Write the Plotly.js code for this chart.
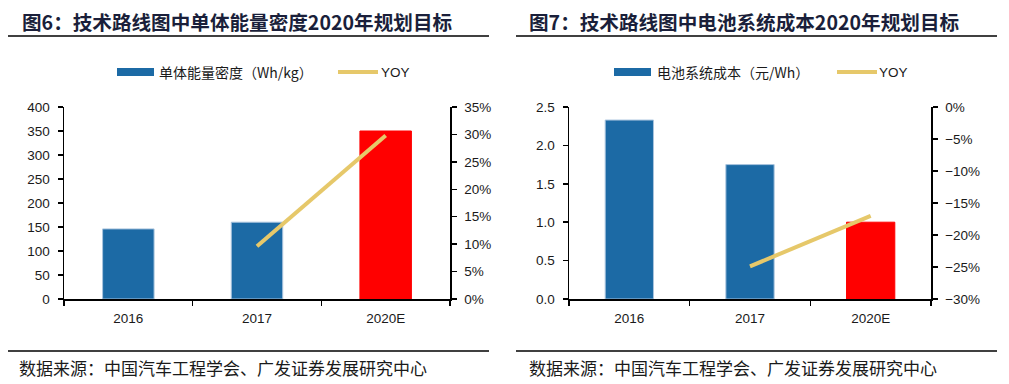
<!DOCTYPE html>
<html>
<head>
<meta charset="utf-8">
<script src="https://cdn.plot.ly/plotly-3.0.1.min.js"></script>
<style>html,body{margin:0;padding:0;background:#fff;}#chart{width:1009px;height:384px;}</style>
</head>
<body>
<div id="chart"></div>
<script>
// ---- data ----
const categories = ['2016', '2017', '2020E'];
const energyDensity = [146, 160, 350];          // Wh/kg
const energyYoY = [null, 0.096, 0.298];         // YOY
const systemCost = [2.33, 1.75, 1.0];           // 元/Wh
const costYoY = [null, -0.249, -0.170];         // YOY
const title1 = '图6：技术路线图中单体能量密度2020年规划目标';
const title2 = '图7：技术路线图中电池系统成本2020年规划目标';
const legendBar1 = '单体能量密度（Wh/kg）';
const legendBar2 = '电池系统成本（元/Wh）';
const legendLine = 'YOY';
const sourceText = '数据来源：中国汽车工程学会、广发证券发展研究中心';

// ---- styles ----
const BLUE = '#1c6aa5', RED = '#ff0000', GOLD = '#e6c86a';
const W = 1009, H = 384;
const px = v => v / W, py = v => (H - v) / H;
const barColors = [BLUE, BLUE, RED];
const barEdge = ['#a9c4de', '#a9c4de', RED];
const tickFont = {family: 'Liberation Sans, Arial, sans-serif', size: 13.5, color: '#1a1a1a'};
const cjk = 'Noto Sans CJK SC, sans-serif';

const traces = [
  {type: 'bar', x: categories, y: energyDensity, xaxis: 'x', yaxis: 'y', width: 0.4,
   marker: {color: barColors, line: {color: barEdge, width: 1}}, name: legendBar1, showlegend: false},
  {type: 'scatter', mode: 'lines', x: categories, y: energyYoY, xaxis: 'x', yaxis: 'y2',
   line: {color: GOLD, width: 4}, name: legendLine, showlegend: false},
  {type: 'bar', x: categories, y: systemCost, xaxis: 'x2', yaxis: 'y3', width: 0.4,
   marker: {color: barColors, line: {color: barEdge, width: 1}}, name: legendBar2, showlegend: false},
  {type: 'scatter', mode: 'lines', x: categories, y: costYoY, xaxis: 'x2', yaxis: 'y4',
   line: {color: GOLD, width: 4}, name: legendLine, showlegend: false}
];

const axCommon = {showgrid: false, zeroline: false, showline: true, linecolor: '#000', linewidth: 1.5,
  ticks: 'outside', ticklen: 5, tickwidth: 1.5, tickcolor: '#000', tickfont: tickFont, fixedrange: true};

const yDomain = [py(299), py(107)];

const layout = {
  width: W, height: H, margin: {l: 0, r: 0, t: 0, b: 0},
  paper_bgcolor: '#fff', plot_bgcolor: '#fff', showlegend: false, bargap: 0.6,
  xaxis: Object.assign({}, axCommon, {domain: [px(64), px(450)], anchor: 'y', type: 'category',
    tickson: 'boundaries', ticklabelstandoff: 6}),
  yaxis: Object.assign({}, axCommon, {domain: yDomain, anchor: 'x', range: [0, 400], dtick: 50, tick0: 0,
    ticklabelstandoff: 5}),
  yaxis2: Object.assign({}, axCommon, {overlaying: 'y', side: 'right', anchor: 'x', range: [0, 0.35],
    dtick: 0.05, tick0: 0, tickformat: '.0%', ticklabelstandoff: 5}),
  xaxis2: Object.assign({}, axCommon, {domain: [px(569), px(931)], anchor: 'y3', type: 'category',
    tickson: 'boundaries', ticklabelstandoff: 6}),
  yaxis3: Object.assign({}, axCommon, {domain: yDomain, anchor: 'x2', range: [0, 2.5], dtick: 0.5, tick0: 0,
    tickformat: '.1f', ticklabelstandoff: 5}),
  yaxis4: Object.assign({}, axCommon, {overlaying: 'y3', side: 'right', anchor: 'x2', range: [-0.30, 0],
    dtick: 0.05, tick0: 0, tickformat: '.0%', ticklabelstandoff: 5}),
  shapes: [
    // title underlines
    {type: 'line', xref: 'paper', yref: 'paper', x0: px(8), x1: px(489), y0: py(36), y1: py(36), line: {color: '#000', width: 1.5}},
    {type: 'line', xref: 'paper', yref: 'paper', x0: px(516), x1: px(997), y0: py(36), y1: py(36), line: {color: '#000', width: 1.5}},
    // footer lines
    {type: 'line', xref: 'paper', yref: 'paper', x0: px(8), x1: px(489), y0: py(351), y1: py(351), line: {color: '#000', width: 1.5}},
    {type: 'line', xref: 'paper', yref: 'paper', x0: px(516), x1: px(997), y0: py(351), y1: py(351), line: {color: '#000', width: 1.5}},
    // legend symbols
    {type: 'rect', xref: 'paper', yref: 'paper', x0: px(117), x1: px(154), y0: py(76), y1: py(68), fillcolor: BLUE, line: {width: 0}},
    {type: 'line', xref: 'paper', yref: 'paper', x0: px(338), x1: px(378), y0: py(72), y1: py(72), line: {color: GOLD, width: 4}},
    {type: 'rect', xref: 'paper', yref: 'paper', x0: px(614), x1: px(651), y0: py(76), y1: py(68), fillcolor: BLUE, line: {width: 0}},
    {type: 'line', xref: 'paper', yref: 'paper', x0: px(837), x1: px(877), y0: py(72), y1: py(72), line: {color: GOLD, width: 4}}
  ],
  annotations: [
    {text: '<b>' + title1 + '</b>', xref: 'paper', yref: 'paper', x: px(20), y: py(21), xanchor: 'left', yanchor: 'middle',
     showarrow: false, font: {family: cjk, size: 19.6, color: '#1a1f3a'}},
    {text: '<b>' + title2 + '</b>', xref: 'paper', yref: 'paper', x: px(527), y: py(21), xanchor: 'left', yanchor: 'middle',
     showarrow: false, font: {family: cjk, size: 19.6, color: '#1a1f3a'}},
    {text: legendBar1, xref: 'paper', yref: 'paper', x: px(157), y: py(72), xanchor: 'left', yanchor: 'middle',
     showarrow: false, font: {family: cjk, size: 14, color: '#1a1a1a'}},
    {text: legendLine, xref: 'paper', yref: 'paper', x: px(379), y: py(72), xanchor: 'left', yanchor: 'middle',
     showarrow: false, font: {family: 'Liberation Sans, Arial, sans-serif', size: 13.5, color: '#1a1a1a'}},
    {text: legendBar2, xref: 'paper', yref: 'paper', x: px(655), y: py(72), xanchor: 'left', yanchor: 'middle',
     showarrow: false, font: {family: cjk, size: 14, color: '#1a1a1a'}},
    {text: legendLine, xref: 'paper', yref: 'paper', x: px(877), y: py(72), xanchor: 'left', yanchor: 'middle',
     showarrow: false, font: {family: 'Liberation Sans, Arial, sans-serif', size: 13.5, color: '#1a1a1a'}},
    {text: sourceText, xref: 'paper', yref: 'paper', x: px(17), y: py(367), xanchor: 'left', yanchor: 'middle',
     showarrow: false, font: {family: cjk, size: 17, color: '#1a1a1a'}},
    {text: sourceText, xref: 'paper', yref: 'paper', x: px(527), y: py(367), xanchor: 'left', yanchor: 'middle',
     showarrow: false, font: {family: cjk, size: 17, color: '#1a1a1a'}}
  ]
};

Plotly.newPlot('chart', traces, layout, {displayModeBar: false, staticPlot: true});
</script>
</body>
</html>
